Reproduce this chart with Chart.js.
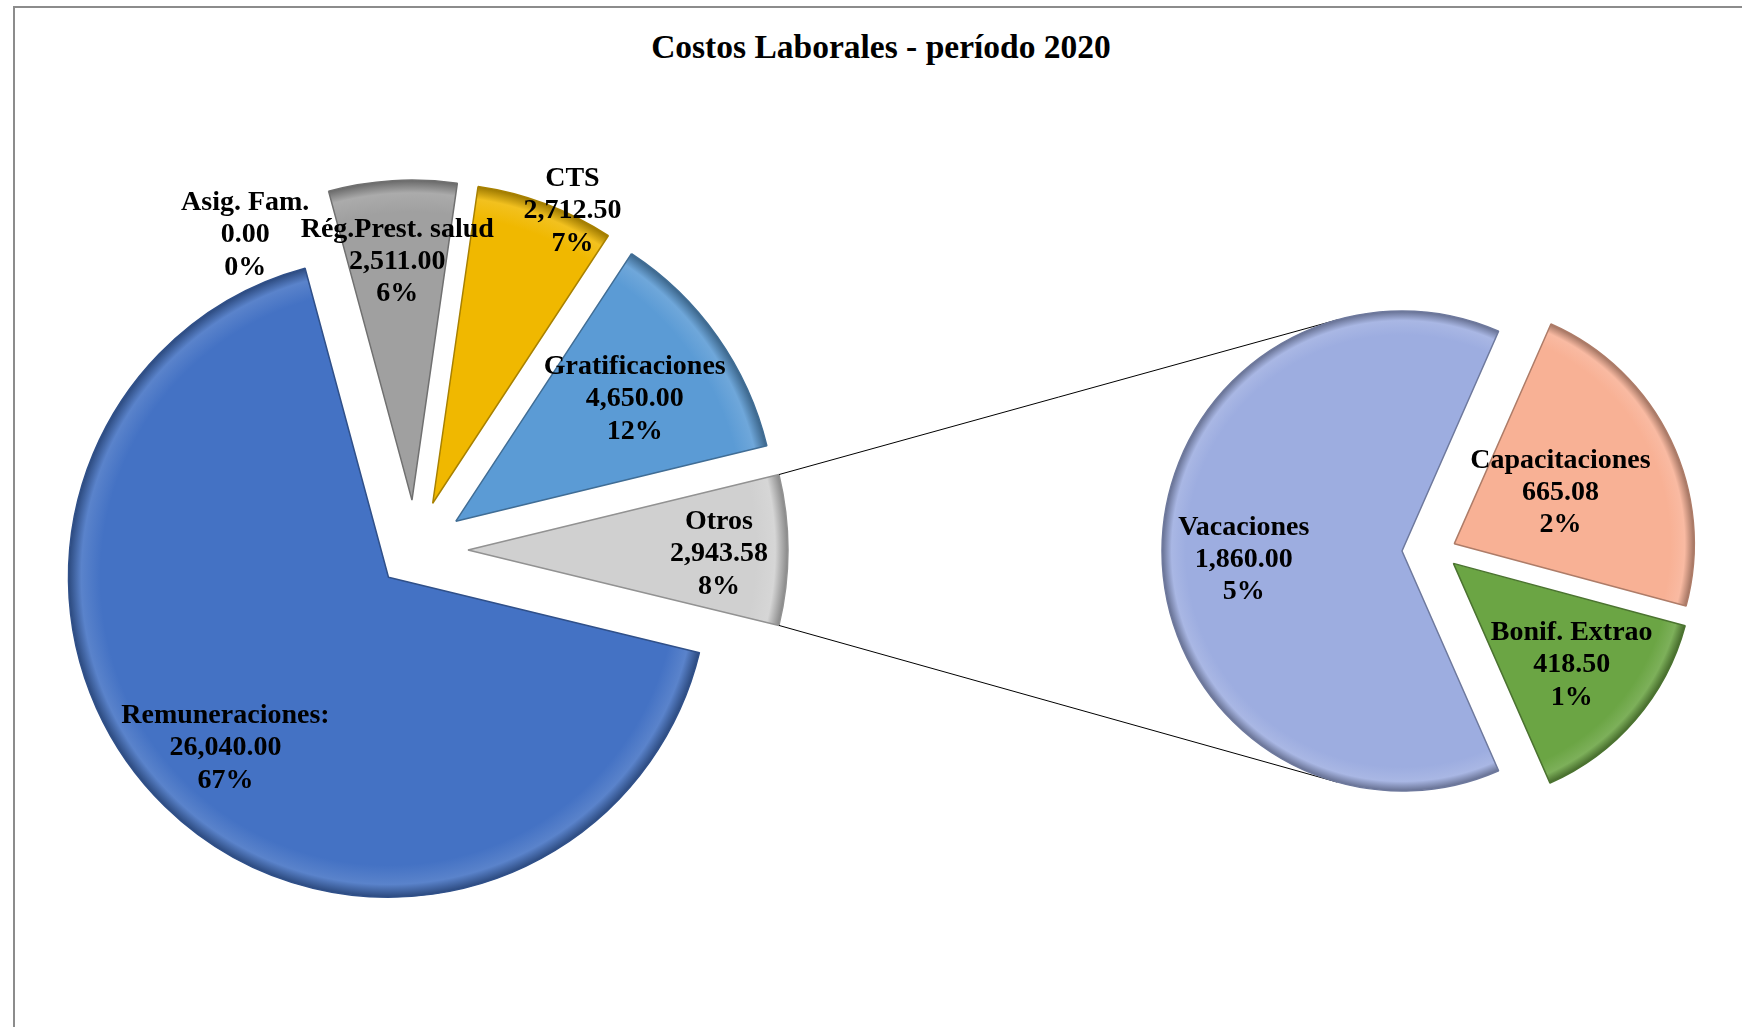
<!DOCTYPE html>
<html>
<head>
<meta charset="utf-8">
<title>Costos Laborales - período 2020</title>
<script src="https://cdn.jsdelivr.net/npm/chart.js@4"></script>
<style>
  html, body { margin: 0; padding: 0; background: #fff; overflow: hidden; }
  #frame { position: absolute; left: 13px; top: 6px; width: 2000px; height: 2000px; border: 2px solid #8c8c8c; }
  #title { position: absolute; left: 0; top: 26px; width: 1762px; text-align: center;
           font: bold 33.5px "Liberation Serif", "Times New Roman", serif; line-height: 42px; color: #000; }
  canvas { position: absolute; left: 0; top: 0; }
</style>
</head>
<body>
<div id="frame"></div>
<div id="title">Costos Laborales - período 2020</div>
<canvas id="mainPie" width="1742" height="1027"></canvas>
<canvas id="subPie" width="1742" height="1027"></canvas>
<script>
// main pie (last slice "Otros" is broken out in the second pie)
const mainLabels = ["Remuneraciones:", "Asig. Fam.", "Rég.Prest. salud", "CTS", "Gratificaciones", "Otros"];
const mainValues = [26040.00, 0.00, 2511.00, 2712.50, 4650.00, 2943.58];
const mainColors = ["#4472C4", "#ED7D31", "#A0A0A0", "#F0B800", "#5B9BD5", "#D0D0D0"];

// second pie: detail of "Otros"
const subLabels = ["Vacaciones", "Capacitaciones", "Bonif. Extrao"];
const subValues = [1860.00, 665.08, 418.50];
const subColors = ["#9DADE0", "#F8B195", "#6BA544"];

// explosion distance per slice (px) and label placement (fraction of radius, angle nudge in deg)
const mainExplode = [38, 50, 50, 50, 50, 53];
const subExplode = [37, 17, 19];
const mainLabelPos = [
  { r: 0.73, a: 0, dy: 3.5 }, { r: 0.97, a: -13, dy: 3 }, { r: 0.756, a: 0, dy: 3 },
  { r: 1.02, a: 4, dy: 3 }, { r: 0.684, a: 0, dy: 4 }, { r: 0.784, a: 0, dy: 4 },
];
const subLabelPos = [{ r: 0.66, a: -2.6, dy: 0 }, { r: 0.49, a: 0, dy: 0 }, { r: 0.65, a: 0, dy: 0 }];

const grandTotal = mainValues.reduce((a, b) => a + b, 0);
const LABEL_FONT = 'bold 28px "Liberation Serif", "Times New Roman", serif';

function shade(hex, f) {
  const n = parseInt(hex.slice(1), 16);
  const c = [(n >> 16) & 255, (n >> 8) & 255, n & 255].map((v) =>
    Math.round(f < 0 ? v * (1 + f) : v + (255 - v) * f),
  );
  return `rgb(${c[0]}, ${c[1]}, ${c[2]})`;
}

function sliceFill(colors) {
  return (context) => {
    const chart = context.chart;
    const base = colors[context.dataIndex];
    const area = chart.chartArea;
    if (!area) return base;
    const cx = (area.left + area.right) / 2;
    const cy = (area.top + area.bottom) / 2;
    const r = chart.options.radius;
    const g = chart.ctx.createRadialGradient(cx, cy, 0, cx, cy, r);
    g.addColorStop(0, base);
    g.addColorStop(0.9, base);
    g.addColorStop(0.96, shade(base, 0.12));
    g.addColorStop(1, shade(base, -0.35));
    return g;
  };
}

function sliceShift(arc, d) {
  const mid = (arc.startAngle + arc.endAngle) / 2;
  return { x: arc.x + Math.cos(mid) * d, y: arc.y + Math.sin(mid) * d };
}

// moves each arc outward along its bisector when the library draws it
function makeExplode(distances) {
  return {
    id: "explode",
    beforeDatasetsDraw(chart) {
      chart.getDatasetMeta(0).data.forEach((arc, i) => {
        if (arc._exploded) return;
        const baseDraw = arc.draw;
        arc._exploded = true;
        arc.draw = function (ctx) {
          const d = distances[i] || 0;
          const mid = (this.startAngle + this.endAngle) / 2;
          ctx.save();
          ctx.translate(Math.cos(mid) * d, Math.sin(mid) * d);
          baseDraw.call(this, ctx);
          ctx.restore();
        };
      });
    },
  };
}

function makeLabels(labels, values, placement, distances) {
  return {
    id: "sliceLabels",
    afterDatasetsDraw(chart) {
      const ctx = chart.ctx;
      ctx.save();
      ctx.font = LABEL_FONT;
      ctx.fillStyle = "#000";
      ctx.textAlign = "center";
      ctx.textBaseline = "middle";
      chart.getDatasetMeta(0).data.forEach((arc, i) => {
        const p = placement[i];
        const mid = (arc.startAngle + arc.endAngle) / 2 + (p.a * Math.PI) / 180;
        const dist = distances[i] + p.r * arc.outerRadius;
        const x = arc.x + Math.cos(mid) * dist;
        const y = arc.y + Math.sin(mid) * dist + p.dy;
        const value = values[i].toLocaleString("en-US", { minimumFractionDigits: 2, maximumFractionDigits: 2 });
        const pct = Math.round((values[i] / grandTotal) * 100) + "%";
        [labels[i], value, pct].forEach((line, k) => ctx.fillText(line, x, y + (k - 1) * 32.3));
      });
      ctx.restore();
    },
  };
}

// lines from the "Otros" slice to the tangents of the second pie
const connectors = {
  id: "connectors",
  beforeDatasetsDraw(chart) {
    const otros = mainChart.getDatasetMeta(0).data[mainValues.length - 1];
    const vac = chart.getDatasetMeta(0).data[0];
    if (!otros || !vac) return;
    const o = sliceShift(otros, mainExplode[mainExplode.length - 1]);
    const c = sliceShift(vac, subExplode[0]);
    const r = vac.outerRadius;
    const ctx = chart.ctx;
    ctx.save();
    ctx.strokeStyle = "#000";
    ctx.lineWidth = 1;
    [
      [otros.startAngle, 1],
      [otros.endAngle, -1],
    ].forEach(([ang, side]) => {
      const px = o.x + Math.cos(ang) * otros.outerRadius;
      const py = o.y + Math.sin(ang) * otros.outerRadius;
      const d = Math.hypot(px - c.x, py - c.y);
      const theta = Math.atan2(py - c.y, px - c.x) + side * Math.acos(r / d);
      ctx.beginPath();
      ctx.moveTo(px, py);
      ctx.lineTo(c.x + Math.cos(theta) * r, c.y + Math.sin(theta) * r);
      ctx.stroke();
    });
    ctx.restore();
  },
};

const otrosDeg = (mainValues[mainValues.length - 1] / grandTotal) * 360;
const subTotal = subValues.reduce((a, b) => a + b, 0);
const vacDeg = (subValues[0] / subTotal) * 360;

const mainChart = new Chart(document.getElementById("mainPie").getContext("2d"), {
  type: "pie",
  data: {
    labels: mainLabels,
    datasets: [
      {
        data: mainValues,
        backgroundColor: sliceFill(mainColors),
        borderColor: mainColors.map((c) => shade(c, -0.3)),
        borderWidth: 1.5,
      },
    ],
  },
  options: {
    responsive: false,
    animation: false,
    radius: 320,
    rotation: 90 + otrosDeg / 2,
    layout: { padding: { left: 0, right: 912, top: 73, bottom: 0 } },
    events: [],
    plugins: { legend: { display: false }, tooltip: { enabled: false } },
  },
  plugins: [makeExplode(mainExplode), makeLabels(mainLabels, mainValues, mainLabelPos, mainExplode)],
});

const subChart = new Chart(document.getElementById("subPie").getContext("2d"), {
  type: "pie",
  data: {
    labels: subLabels,
    datasets: [
      {
        data: subValues,
        backgroundColor: sliceFill(subColors),
        borderColor: subColors.map((c) => shade(c, -0.3)),
        borderWidth: 1.5,
      },
    ],
  },
  options: {
    responsive: false,
    animation: false,
    radius: 240,
    rotation: 270 - vacDeg / 2,
    layout: { padding: { left: 1136, right: 0, top: 75, bottom: 0 } },
    events: [],
    plugins: { legend: { display: false }, tooltip: { enabled: false } },
  },
  plugins: [connectors, makeExplode(subExplode), makeLabels(subLabels, subValues, subLabelPos, subExplode)],
});
</script>
</body>
</html>
